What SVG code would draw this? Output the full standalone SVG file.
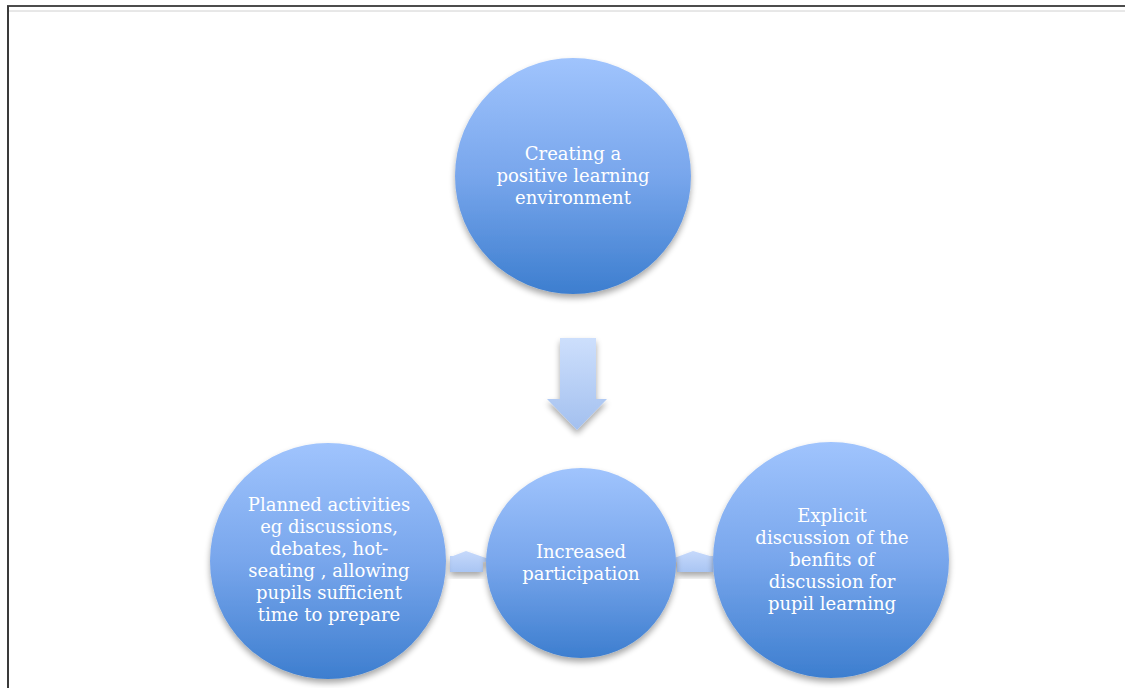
<svg xmlns="http://www.w3.org/2000/svg" width="1125" height="688" viewBox="0 0 1125 688">
  <defs>
    <linearGradient id="ballFill" x1="0" y1="0" x2="0" y2="1">
      <stop offset="0" stop-color="#a0c4fd"/>
      <stop offset="0.5" stop-color="#78a6ec"/>
      <stop offset="1" stop-color="#3d7ecf"/>
    </linearGradient>
    <linearGradient id="arrowFill" x1="0" y1="0" x2="0" y2="1">
      <stop offset="0" stop-color="#cddffc"/>
      <stop offset="1" stop-color="#a3c0ef"/>
    </linearGradient>
    <linearGradient id="sideArrowFill" x1="0" y1="0" x2="0" y2="1">
      <stop offset="0" stop-color="#c6d9fb"/>
      <stop offset="1" stop-color="#a9c5f3"/>
    </linearGradient>
    <filter id="softShadow" x="-20%" y="-20%" width="140%" height="150%">
      <feGaussianBlur in="SourceAlpha" stdDeviation="3"/>
      <feOffset dx="0" dy="4" result="blur"/>
      <feComponentTransfer><feFuncA type="linear" slope="0.35"/></feComponentTransfer>
      <feMerge><feMergeNode/><feMergeNode in="SourceGraphic"/></feMerge>
    </filter>
    <style>
      .ball { fill: url(#ballFill); filter: url(#softShadow); }
      .label { font-family: "DejaVu Serif", "Liberation Serif", serif; font-size: 18px; fill: #ffffff; text-anchor: middle; }
    </style>
  </defs>

  <rect width="1125" height="688" fill="#ffffff"/>

  <!-- page frame -->
  <g id="frame">
    <line x1="7" y1="6" x2="1125" y2="6" stroke="#111111" stroke-width="1.5"/>
    <line x1="8" y1="11" x2="1125" y2="11" stroke="#d0d0d0" stroke-width="1"/>
    <line x1="8" y1="6" x2="8" y2="688" stroke="#3a3a3a" stroke-width="2"/>
  </g>

  <!-- connectors -->
  <g id="connectors">
    <polygon id="down-arrow" points="560,338 596,338 596,399 607,399 577,430 547,399 560,399" fill="url(#arrowFill)" filter="url(#softShadow)"/>
    <polygon id="left-link" points="450,556 453,556 466,551 483,557 496,561 483,562 483,572 450,572" fill="url(#sideArrowFill)" filter="url(#softShadow)"/>
    <polygon id="right-link" points="664,561 677,557 693,551 710,556 713,556 713,572 677,572 677,562" fill="url(#sideArrowFill)" filter="url(#softShadow)"/>
  </g>

  <g id="node-environment">
    <circle class="ball" cx="573" cy="176" r="118"/>
    <text class="label" x="573" y="160">Creating a</text>
    <text class="label" x="573" y="182">positive learning</text>
    <text class="label" x="573" y="204">environment</text>
  </g>

  <g id="node-activities">
    <circle class="ball" cx="328" cy="561" r="118"/>
    <text class="label" x="329" y="511">Planned activities</text>
    <text class="label" x="329" y="533">eg discussions,</text>
    <text class="label" x="329" y="555">debates, hot-</text>
    <text class="label" x="329" y="577">seating , allowing</text>
    <text class="label" x="329" y="599">pupils sufficient</text>
    <text class="label" x="329" y="621">time to prepare</text>
  </g>

  <g id="node-participation">
    <circle class="ball" cx="581" cy="563" r="95"/>
    <text class="label" x="581" y="558">Increased</text>
    <text class="label" x="581" y="580">participation</text>
  </g>

  <g id="node-discussion">
    <circle class="ball" cx="831" cy="560" r="118"/>
    <text class="label" x="832" y="522">Explicit</text>
    <text class="label" x="832" y="544">discussion of the</text>
    <text class="label" x="832" y="566">benfits of</text>
    <text class="label" x="832" y="588">discussion for</text>
    <text class="label" x="832" y="610">pupil learning</text>
  </g>
</svg>
